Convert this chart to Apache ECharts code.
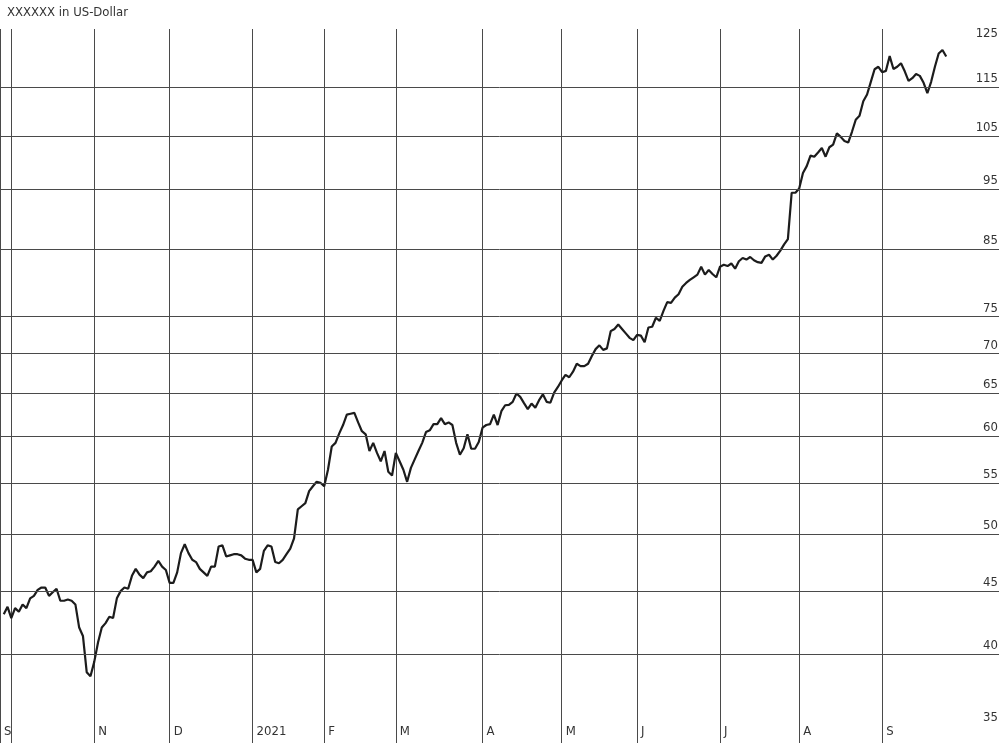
<!DOCTYPE html>
<html>
<head>
<meta charset="utf-8">
<script src="https://cdn.jsdelivr.net/npm/echarts@6/dist/echarts.min.js"></script>
<style>
html,body{margin:0;padding:0;background:#fff;}
#chart{width:1000px;height:743px;}
</style>
</head>
<body>
<div id="chart"></div>
<script>
// Trading-day closing prices (Sep 29 2020 .. Sep 27 2021)
const prices = [
43.1, 43.7, 42.8, 43.6, 43.3, 43.9, 43.6, 44.4, 44.6, 45.1,
45.3, 45.3, 44.6, 44.9, 45.2, 44.2, 44.2, 44.3, 44.2, 43.9,
42.05, 41.4, 38.7, 38.4, 39.45, 40.9, 42.05, 42.4, 42.9, 42.8,
44.4, 45.0, 45.3, 45.2, 46.3, 46.9, 46.4, 46.1, 46.6, 46.7,
47.1, 47.6, 47.1, 46.8, 45.7, 45.7, 46.6, 48.3, 49.1, 48.3,
47.7, 47.5, 46.9, 46.6, 46.3, 47.1, 47.1, 48.9, 49.0, 48.0,
48.1, 48.2, 48.2, 48.1,
47.8, 47.7, 47.7, 46.6, 46.9, 48.5, 49.0, 48.9, 47.5, 47.4,
47.7, 48.2, 48.7, 49.65, 52.4, 52.7, 53.0, 54.2, 54.7, 55.15,
55.05, 54.7, 56.4, 58.9, 59.3, 60.35, 61.3, 62.5, 62.6, 62.7,
61.6, 60.6, 60.25, 58.4, 59.3, 58.2, 57.3, 58.4, 56.2, 55.8,
58.2, 57.3, 56.4, 55.15, 56.6, 57.5, 58.4, 59.3, 60.5, 60.7,
61.4, 61.4, 62.1, 61.4, 61.6, 61.3, 59.3, 58.0, 58.7, 60.25,
58.65, 58.65, 59.4, 61.0,
61.3, 61.4, 62.5, 61.3, 62.9, 63.6, 63.65, 64.0, 65.0, 64.6,
63.85, 63.15, 63.8, 63.3, 64.2, 64.9, 64.0, 63.9, 65.1, 65.8,
66.6, 67.3, 67.0, 67.7, 68.7, 68.4, 68.4, 68.7, 69.7, 70.6,
71.1, 70.5, 70.7, 73.0, 73.3, 73.9, 73.3, 72.7, 72.1, 71.8,
72.5, 72.4, 71.5, 73.5, 73.6, 74.85, 74.4, 75.8, 77.05, 76.95,
77.7, 78.2, 79.3, 79.85, 80.3, 80.7, 81.1, 82.3, 81.1, 81.8,
81.2, 80.7, 82.3, 82.6,
82.4, 82.8, 82.0, 83.15, 83.65, 83.4, 83.8, 83.3, 83.0, 82.9,
83.9, 84.15, 83.4, 84.0, 84.8, 85.8, 86.65, 94.45, 94.45, 95.2,
98.0, 99.25, 101.2, 101.0, 101.8, 102.65, 101.0, 102.8, 103.3, 105.5,
104.8, 104.0, 103.7, 105.8, 108.2, 109.0, 112.0, 113.4, 116.1, 118.85,
119.4, 118.2, 118.5, 121.8, 118.9, 119.4, 120.2, 118.4, 116.3, 116.9,
117.8, 117.4, 115.9, 113.7, 116.1, 119.4, 122.4, 123.2, 121.7
];

// trading-day slots on the x axis (slot 0 = Sep 28 2020, empty; data starts at slot 1)
const slotCount = 266;
const categories = Array.from({length: slotCount}, (_, i) => 'd' + i);

// month tick labels and the slot where each one sits
const monthLabels   = ['S', 'N', 'D', '2021', 'F', 'M', 'A', 'M', 'J', 'J', 'A', 'S'];
const monthLabelIdx = [0, 25, 45, 67, 86, 105, 128, 149, 169, 191, 212, 234];
// vertical grid lines (month starts, incl. October without label)
const monthLineIdx  = [0, 3, 25, 45, 67, 86, 105, 128, 149, 169, 191, 212, 234];

// y axis (logarithmic)
const gridValues  = [40, 45, 50, 55, 60, 65, 70, 75, 85, 95, 105, 115];
const yTickLabels = [35, 40, 45, 50, 55, 60, 65, 70, 75, 85, 95, 105, 115, 125];

const FONT = "'Liberation Sans Narrow', 'DejaVu Sans Condensed', 'Roboto', sans-serif";
const GRID_COLOR = '#4a4a4a';

const seriesData = ['-'].concat(prices);

const markData = yTickLabels.map(v => ({
  yAxis: v,
  lineStyle: gridValues.indexOf(v) >= 0
    ? {color: GRID_COLOR, width: 1, type: 'solid'}
    : {color: 'rgba(255,255,255,0)', width: 0}
}));

const chart = echarts.init(document.getElementById('chart'), null, {renderer: 'canvas'});
chart.setOption({
  animation: false,
  backgroundColor: '#fff',
  title: {
    text: 'XXXXXX in US-Dollar',
    left: 2, top: 1,
    textStyle: {fontFamily: FONT, fontSize: 13, fontWeight: 'normal', color: '#333'}
  },
  grid: {left: 0, right: 1, top: 29, bottom: 0, containLabel: false},
  xAxis: {
    type: 'category',
    data: categories,
    boundaryGap: false,
    axisLine: {show: false},
    axisTick: {show: false},
    splitLine: {
      show: true,
      interval: (idx) => monthLineIdx.indexOf(idx) >= 0,
      lineStyle: {color: GRID_COLOR, width: 1}
    },
    axisLabel: {
      show: true,
      inside: true,
      interval: (idx) => monthLabelIdx.indexOf(idx) >= 0,
      formatter: (val, idx) => {
        const k = monthLabelIdx.indexOf(idx);
        return k >= 0 ? monthLabels[k] : '';
      },
      align: 'left',
      padding: [0, 0, 0, 4],
      margin: 5,
      fontFamily: FONT,
      fontSize: 13,
      color: '#333'
    }
  },
  yAxis: {
    type: 'log',
    logBase: 10,
    min: 33.92,
    max: 128.1,
    position: 'right',
    axisLine: {show: false},
    axisTick: {show: false},
    axisLabel: {show: false},
    splitLine: {show: false}
  },
  series: [
    {
      name: 'grid',
      type: 'line',
      data: [],
      z: 1,
      silent: true,
      markLine: {
        silent: true,
        symbol: ['none', 'none'],
        animation: false,
        label: {
          show: true,
          position: 'insideEndTop',
          distance: [1, 2],
          formatter: (p) => String(p.value),
          fontFamily: FONT,
          fontSize: 13,
          color: '#333',
          opacity: 1
        },
        emphasis: {disabled: true},
        data: markData
      }
    },
    {
      name: 'price',
      type: 'line',
      data: seriesData,
      z: 3,
      showSymbol: false,
      symbol: 'none',
      smooth: false,
      connectNulls: false,
      lineStyle: {color: '#1c1c1c', width: 2.2},
      silent: true
    }
  ]
});
</script>
</body>
</html>
